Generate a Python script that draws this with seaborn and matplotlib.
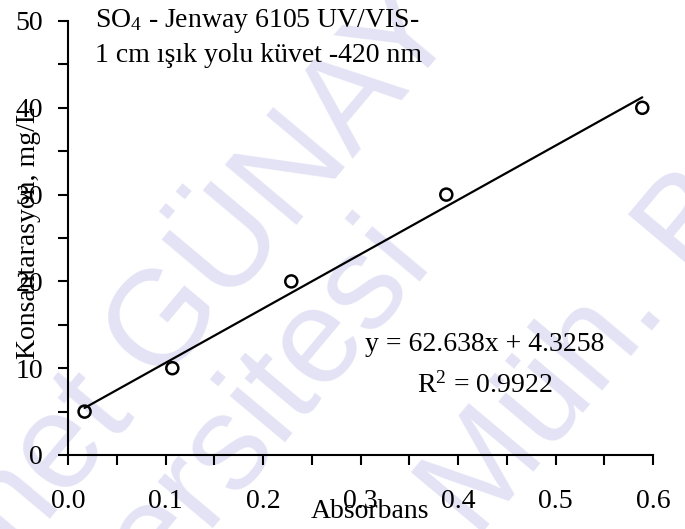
import numpy as np
import matplotlib
matplotlib.use("Agg")
import matplotlib.pyplot as plt
from matplotlib.ticker import MultipleLocator, FormatStrFormatter
import seaborn as sns

# Kalibrasyon verileri (SO4)
absorbans = [0.017, 0.107, 0.229, 0.388, 0.589]
konsantrasyon = [5, 10, 20, 30, 40]

baslik_1 = "SO$_\\mathrm{4}$ - Jenway 6105 UV/VIS-"
baslik_2 = "1 cm ışık yolu küvet -420 nm"
denklem = "y = 62.638x + 4.3258"
r_kare = "R$^\\mathrm{2}$ = 0.9922"

sns.set_theme(style="ticks")
plt.rcParams["font.family"] = ["Liberation Serif", "DejaVu Serif"]
plt.rcParams["mathtext.fontset"] = "custom"
plt.rcParams["mathtext.rm"] = "Liberation Serif"
plt.rcParams["mathtext.it"] = "Liberation Serif:italic"

W, H = 685, 529
fs = 20
fig = plt.figure(figsize=(W / 100, H / 100), dpi=100)
ax = fig.add_axes([68 / W, 74 / H, 585 / W, 434 / H])
ax.patch.set_alpha(0)

# Filigran (arka plan yazısı)
wm = dict(fontsize=97, color="#e3e3f5", rotation=50, rotation_mode="anchor",
          family="Liberation Sans", zorder=-5)
fig.text(462 / W, 1 - 28 / H, "Mehmet GÜNAY", ha="right", va="baseline", **wm)
fig.text(431 / W, 1 - 257 / H, "Üniversitesi", ha="right", va="baseline", **wm)
fig.text(476 / W, 1 - 540 / H, "Müh. Bölümü", ha="left", va="baseline", **wm)

sns.regplot(x=absorbans, y=konsantrasyon, ci=None, truncate=True, color="black",
            marker="o", ax=ax,
            scatter_kws=dict(s=75, facecolors="none", edgecolors="black",
                             linewidths=1.8, alpha=1, zorder=3),
            line_kws=dict(linewidth=1.6, color="black"))

ax.set_xlim(0, 0.6)
ax.set_ylim(0, 50)
ax.xaxis.set_major_locator(MultipleLocator(0.1))
ax.xaxis.set_minor_locator(MultipleLocator(0.05))
ax.xaxis.set_major_formatter(FormatStrFormatter("%.1f"))
ax.yaxis.set_major_locator(MultipleLocator(10))
ax.yaxis.set_minor_locator(MultipleLocator(5))
ax.tick_params(which="both", direction="out", length=7, width=1.5, color="black")
ax.tick_params(axis="x", which="major", pad=17.5, labelsize=fs, labelcolor="black")
ax.tick_params(axis="y", which="major", pad=11, labelsize=fs, labelcolor="black")
sns.despine(ax=ax)
for s in ["left", "bottom"]:
    ax.spines[s].set_linewidth(1.5)
    ax.spines[s].set_color("black")

ax.set_xlabel("Absorbans", fontsize=fs, color="black")
ax.set_ylabel("Konsantarasyon, mg/L", fontsize=fs, color="black")
ax.xaxis.set_label_coords(0.516, -0.101)
ax.yaxis.set_label_coords(-0.046, 0.513)

ax.text(0.0277, 49.3, baslik_1, fontsize=fs, va="baseline", color="black")
ax.text(0.0277, 45.28, baslik_2, fontsize=fs, va="baseline", color="black")
ax.text(0.4277, 11.98, denklem, fontsize=fs, ha="center", va="baseline", color="black")
ax.text(0.4277, 7.14, r_kare, fontsize=fs, ha="center", va="baseline", color="black")

fig.savefig("out.png", dpi=100)
